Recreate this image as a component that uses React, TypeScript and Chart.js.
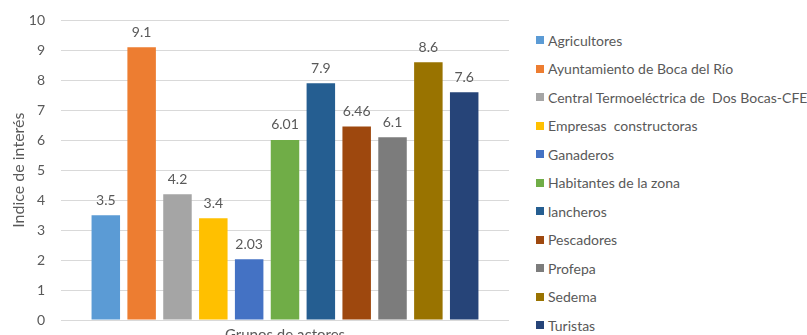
import React, { useEffect, useRef } from "react";
import { Chart, registerables } from "chart.js";

Chart.register(...registerables);

const actors = [
  "Agricultores",
  "Ayuntamiento de Boca del Río",
  "Central Termoeléctrica de  Dos Bocas-CFE",
  "Empresas  constructoras",
  "Ganaderos",
  "Habitantes de la zona",
  "lancheros",
  "Pescadores",
  "Profepa",
  "Sedema",
  "Turistas",
];
const interest = [3.5, 9.1, 4.2, 3.4, 2.03, 6.01, 7.9, 6.46, 6.1, 8.6, 7.6];
const valueLabels = ["3.5", "9.1", "4.2", "3.4", "2.03", "6.01", "7.9", "6.46", "6.1", "8.6", "7.6"];
const colors = [
  "#5B9BD5",
  "#ED7D31",
  "#A5A5A5",
  "#FFC000",
  "#4472C4",
  "#70AD47",
  "#255E91",
  "#9E480E",
  "#7C7C7C",
  "#997300",
  "#264478",
];
const categories = [""];
const xTitle = "Grupos de actores";
const yTitle = "Indice de interés";

const FONT = "Lato, 'Liberation Sans', sans-serif";
const TEXT = "#595959";

const valueLabelPlugin = {
  id: "valueLabels",
  afterDatasetsDraw(chart: any) {
    const ctx = chart.ctx;
    ctx.save();
    ctx.font = `14px ${FONT}`;
    ctx.fillStyle = TEXT;
    ctx.textAlign = "center";
    ctx.textBaseline = "middle";
    chart.data.datasets.forEach((ds: any, i: number) => {
      const meta = chart.getDatasetMeta(i);
      meta.data.forEach((bar: any) => {
        ctx.fillText(valueLabels[i], bar.x, bar.y - 15);
      });
    });
    ctx.restore();
  },
};

export default function App() {
  const ref = useRef<HTMLCanvasElement>(null);
  useEffect(() => {
    document.body.style.margin = "0";
    document.body.style.overflow = "hidden";
    const chart = new Chart(ref.current!, {
      type: "bar",
      data: {
        labels: categories,
        datasets: actors.map((a, i) => ({
          label: a,
          data: [interest[i]],
          backgroundColor: colors[i],
          borderWidth: 0,
        })),
      },
      options: {
        animation: false,
        responsive: false,
        maintainAspectRatio: false,
        categoryPercentage: 0.88,
        barPercentage: 0.795,
        layout: { padding: { top: 9, left: 6, right: 2, bottom: 0 } },
        plugins: {
          legend: { display: false },
          tooltip: { enabled: false },
        },
        scales: {
          x: {
            grid: { display: false },
            border: { display: false },
            ticks: { display: false },
            title: {
              display: true,
              text: xTitle,
              color: TEXT,
              font: { family: FONT, size: 15 },
              padding: { top: -2, bottom: 4 },
            },
          },
          y: {
            min: 0,
            max: 10,
            afterFit(scale: any) {
              scale.width = 55;
            },
            ticks: {
              stepSize: 1,
              color: TEXT,
              font: { family: FONT, size: 14 },
              padding: 16,
            },
            grid: { color: "#D9D9D9", drawTicks: false },
            border: { display: false },
            title: {
              display: true,
              text: yTitle,
              color: TEXT,
              font: { family: FONT, size: 16 },
              padding: { top: 3, bottom: 0 },
            },
          },
        },
      },
      plugins: [valueLabelPlugin],
    });
    return () => chart.destroy();
  }, []);

  return (
    <div style={{ position: "relative", width: 807, height: 335, overflow: "hidden", background: "#fff" }}>
      <canvas ref={ref} width={511} height={352} style={{ position: "absolute", left: 0, top: -4 }} />
      <div style={{ position: "absolute", left: 536, top: 0 }}>
        {actors.map((a, i) => (
          <div
            key={a}
            style={{
              position: "absolute",
              top: 40 + i * 28.5 - 10,
              left: 0,
              height: 20,
              display: "flex",
              alignItems: "center",
              whiteSpace: "pre",
              font: `14px ${FONT}`,
              color: TEXT,
            }}
          >
            <span style={{ display: "inline-block", width: 8, height: 8, background: colors[i], marginRight: 4 }} />
            {a}
          </div>
        ))}
      </div>
    </div>
  );
}
